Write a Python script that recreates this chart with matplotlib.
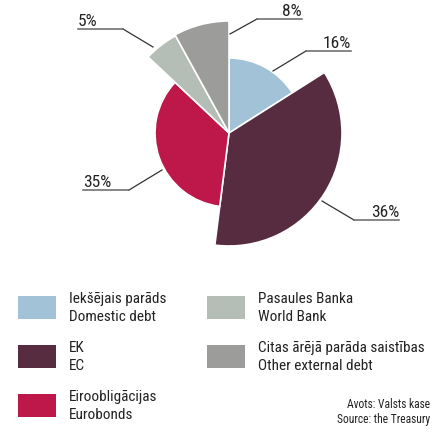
import matplotlib.pyplot as plt
from matplotlib.patches import Wedge, Rectangle

###############################
### data

labels_lv = ['Iekšējais parāds', 'EK', 'Eiroobligācijas', 'Pasaules Banka', 'Citas ārējā parāda saistības']
labels_en = ['Domestic debt', 'EC', 'Eurobonds', 'World Bank', 'Other external debt']
shares = [16, 36, 35, 5, 8]

###############################
### style

colors = ['#A2C3D7', '#572C40', '#BD1849', '#B4BEB6', '#9C9C9A']
radii = [75, 113, 74, 111, 112]
center = (229, 447 - 133)
plt.rcParams['font.family'] = ['Roboto Condensed', 'DejaVu Sans']

W, H = 436, 447
fig = plt.figure(figsize=(W / 100, H / 100), dpi=100)
ax = fig.add_axes([0, 0, 1, 1])
ax.set_xlim(0, W)
ax.set_ylim(0, H)
ax.axis('off')

def Y(y):
	# image row -> axes y
	return H - y

###############################
### pie with varying radius

start = 0
for v, r, c in zip(shares, radii, colors):
	t2 = 90 - start * 3.6
	t1 = 90 - (start + v) * 3.6
	ax.add_patch(Wedge(center, r, t1, t2, facecolor=c, edgecolor='white', linewidth=1.2))
	start += v

###############################
### leader lines + labels

# (points of the line in image coords, text x, align)
leaders = [
	([(273, 71), (306, 51), (351, 51)], 351, 'right'),   # 16%
	([(322, 201), (354, 220), (399, 220)], 399, 'right'), # 36%
	([(162, 170), (129, 190), (83, 190)], 83, 'left'),    # 35%
	([(153, 47), (123, 29), (78, 29)], 78, 'left'),       # 5%
	([(230, 34), (257, 19), (302, 19)], 302, 'right'),    # 8%
]
for v, (pts, tx, ha) in zip(shares, leaders):
	xs = [p[0] for p in pts]
	ys = [Y(p[1]) for p in pts]
	ax.plot(xs[:2], ys[:2], color='#333333', linewidth=0.9)
	ax.plot(xs[1:], ys[1:], color='#666666', linewidth=1.1)
	ax.text(tx, ys[2] + 3, '%d%%' % v, ha=ha, va='baseline', fontsize=12.5, color='#222222')

###############################
### legend

legend_pos = [(18, 296), (18, 345), (18, 394), (207, 296), (207, 345)]
for (lx, ly), lv, en, c in zip(legend_pos, labels_lv, labels_en, colors):
	ax.add_patch(Rectangle((lx, Y(ly + 23)), 38, 23, facecolor=c, edgecolor='none'))
	ax.text(lx + 51, Y(ly + 3), lv, ha='left', va='center', fontsize=11, color='#222222')
	ax.text(lx + 51, Y(ly + 21), en, ha='left', va='center', fontsize=11, color='#222222')

ax.text(430, Y(405), 'Avots: Valsts kase', ha='right', va='center', fontsize=8.3, color='#222222')
ax.text(430, Y(419), 'Source: the Treasury', ha='right', va='center', fontsize=8.3, color='#222222')

fig.savefig('out.png', dpi=100)
